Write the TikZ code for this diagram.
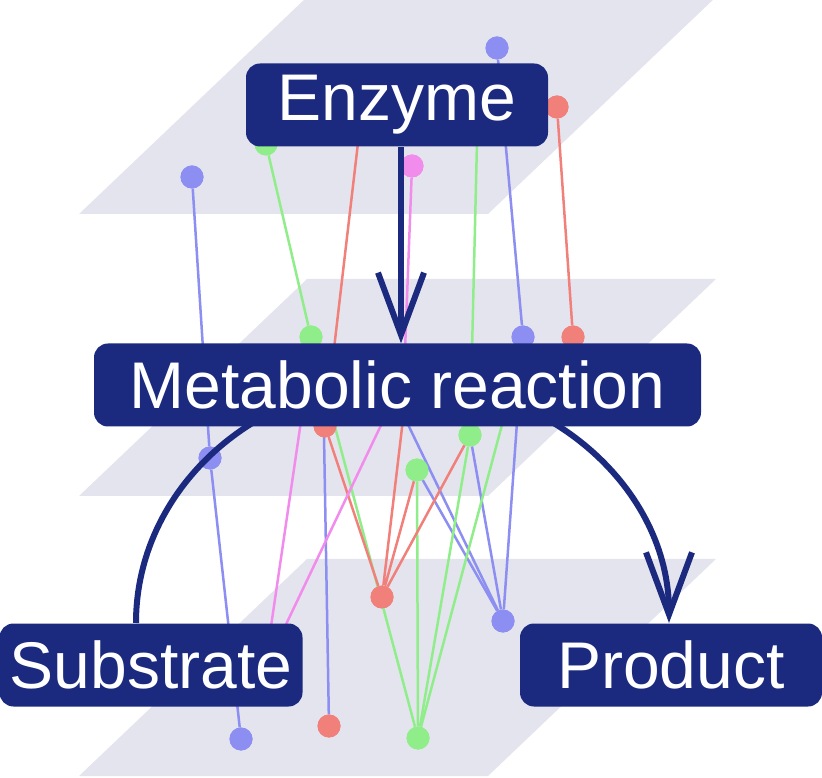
\documentclass[tikz,border=0pt]{standalone}
\usepackage{fontspec}
\setmainfont{Liberation Sans}
\usetikzlibrary{arrows.meta}
\definecolor{navy}{HTML}{1B2A7F}
\definecolor{plane}{HTML}{E4E4EE}
\definecolor{cb}{HTML}{8C8EF2}
\definecolor{cr}{HTML}{F2807A}
\definecolor{cg}{HTML}{90EE8A}
\definecolor{cp}{HTML}{F28CEC}
\begin{document}
\begin{tikzpicture}[x=1pt,y=1pt,
  box/.style={fill=navy,rounded corners=14pt,text=white,font=\fontsize{66}{70}\selectfont,minimum height=83pt,inner sep=0pt},
  dot/.style={circle,inner sep=0pt,minimum size=23pt,fill=#1},
  ln/.style={#1,line width=2.5pt},
  arr/.style={navy,line width=6pt,-{Straight Barb[length=62pt,width=46pt,line width=6pt]}}]
\useasboundingbox (0,0) rectangle (822,777);
\begin{scope}
\clip (0,0) rectangle (822,777);
\foreach \b in {560,280,-2}{
  \fill[plane] (79,777-\b-216) -- (488,777-\b-216) -- (716,777-\b+1) -- (307,777-\b+1) -- cycle;}
\end{scope}
\node[dot=cb] (B1) at (497,729) {};
\node[dot=cb] (B2) at (192,600) {};
\node[dot=cb] (B3) at (523,440) {};
\node[dot=cb] (B4) at (210,319) {};
\node[dot=cb] (B5) at (503,156) {};
\node[dot=cb] (B6) at (241,38) {};
\node[dot=cr] (R1) at (557,670) {};
\node[dot=cr] (R2) at (573,440) {};
\node[dot=cr] (R3) at (325,351) {};
\node[dot=cr] (R4) at (382,180) {};
\node[dot=cr] (R5) at (329,51) {};
\node[dot=cg] (G1) at (266,633) {};
\node[dot=cg] (G2) at (311,440) {};
\node[dot=cg] (G3) at (470,342) {};
\node[dot=cg] (G4) at (417,307) {};
\node[dot=cg] (G5) at (418,39) {};
\node[dot=cp] (P1) at (412,611) {};
\coordinate (hE1) at (363,677);
\coordinate (hE2) at (478,677);
\coordinate (hP) at (404,400);
\coordinate (hP2) at (307,397);
\coordinate (hS) at (280,140);
\coordinate (hS2) at (268,130);
\coordinate (hR) at (408,400);
\coordinate (hB) at (385,400);
\coordinate (hB2) at (323,400);
\coordinate (hG) at (514,397);
\draw[ln=cb] (B2) -- (B4) -- (B6);
\draw[ln=cb] (B1) -- (B3) -- (B5);
\draw[ln=cb] (hB) -- (B5);
\draw[ln=cb] (G4) -- (B5);
\draw[ln=cb] (G3) -- (B5);
\draw[ln=cb] (hB2) -- (R5);
\draw[ln=cg] (G1) -- (G2) -- (G5);
\draw[ln=cg] (hE2) -- (G3) -- (G5);
\draw[ln=cg] (G4) -- (G5);
\draw[ln=cg] (hG) -- (G5);
\draw[ln=cr] (hE1) -- (R3) -- (R4);
\draw[ln=cr] (R1) -- (R2);
\draw[ln=cr] (hR) -- (R4) -- (G4);
\draw[ln=cr] (R4) -- (G3);
\draw[ln=cp] (P1) -- (hP) -- (hS);
\draw[ln=cp] (hP2) -- (hS2);
\foreach \n/\c in {B1/cb,B2/cb,B3/cb,B4/cb,B5/cb,B6/cb,R1/cr,R2/cr,R3/cr,R4/cr,R5/cr,G1/cg,G2/cg,G3/cg,G4/cg,G5/cg,P1/cp}
  \fill[\c] (\n) circle (11.5pt);
\draw[arr] (136,154) arc[start angle=180,end angle=0,x radius=266.5,y radius=242];
\node[box,minimum width=302pt] (enz) at (397,672) {Enzyme};
\node[box,minimum width=607pt] (met) at (397.5,392) {Metabolic reaction};
\node[box,minimum width=303pt] (sub) at (151,112) {Substrate};
\node[box,minimum width=302pt] (pro) at (671,112) {Product};
\draw[arr] (enz.south -| 401,0) -- (met.north -| 401,0);
\end{tikzpicture}
\end{document}
